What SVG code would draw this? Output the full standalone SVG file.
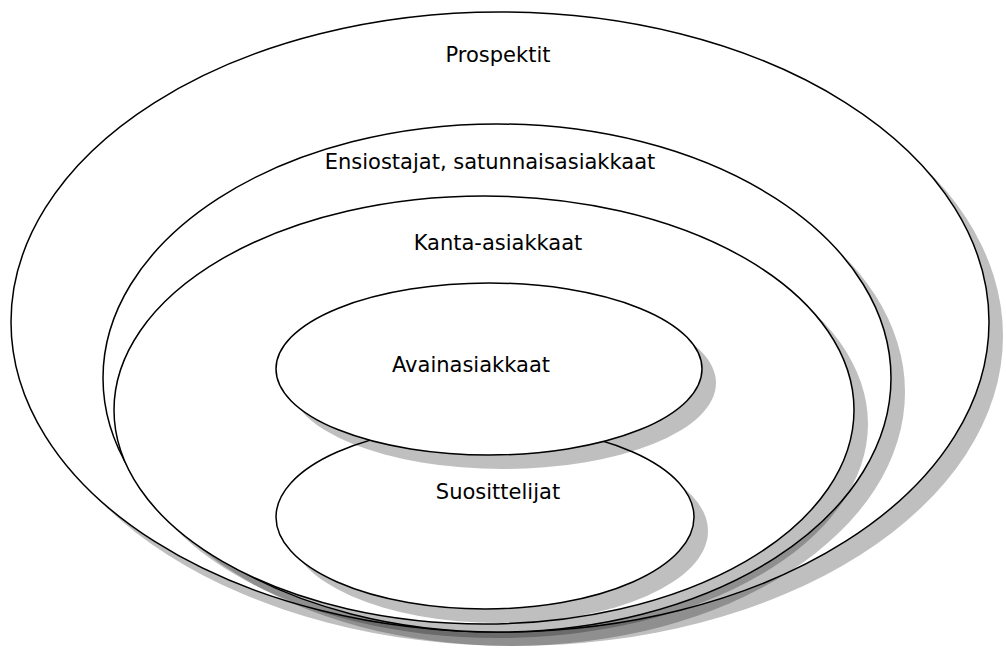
<svg xmlns="http://www.w3.org/2000/svg" width="1006" height="653" viewBox="0 0 1006 653">
<style>
.sh{fill:#000;fill-opacity:0.25;stroke:none}
.el{fill:#fff;stroke:#000;stroke-width:1.5}
.lb{font-family:"DejaVu Sans",sans-serif;font-size:21px;fill:#000;text-anchor:middle}
</style>
<rect width="1006" height="653" fill="#fff"/>
<g id="prospektit">
<ellipse class="sh" cx="514" cy="336" rx="489" ry="310"/>
<ellipse class="el" cx="500" cy="322" rx="489" ry="310"/>
<text class="lb" x="498" y="62">Prospektit</text>
</g>
<g id="ensiostajat">
<ellipse class="sh" cx="511" cy="392" rx="394" ry="254"/>
<ellipse class="el" cx="497" cy="378" rx="394" ry="254"/>
<text class="lb" x="490" y="169">Ensiostajat, satunnaisasiakkaat</text>
</g>
<g id="kanta">
<ellipse class="sh" cx="498" cy="424" rx="370" ry="214"/>
<ellipse class="el" cx="484" cy="410" rx="370" ry="214"/>
<text class="lb" x="498" y="250">Kanta-asiakkaat</text>
</g>
<g id="suosittelijat">
<ellipse class="sh" cx="499" cy="531" rx="209" ry="92"/>
<ellipse class="el" cx="485" cy="517" rx="209" ry="92"/>
<text class="lb" x="498" y="499">Suosittelijat</text>
</g>
<g id="avainasiakkaat">
<ellipse class="sh" cx="503" cy="383" rx="213" ry="86"/>
<ellipse class="el" cx="489" cy="369" rx="213" ry="86"/>
<text class="lb" x="471" y="372">Avainasiakkaat</text>
</g>
<g id="connectors"/>
</svg>
